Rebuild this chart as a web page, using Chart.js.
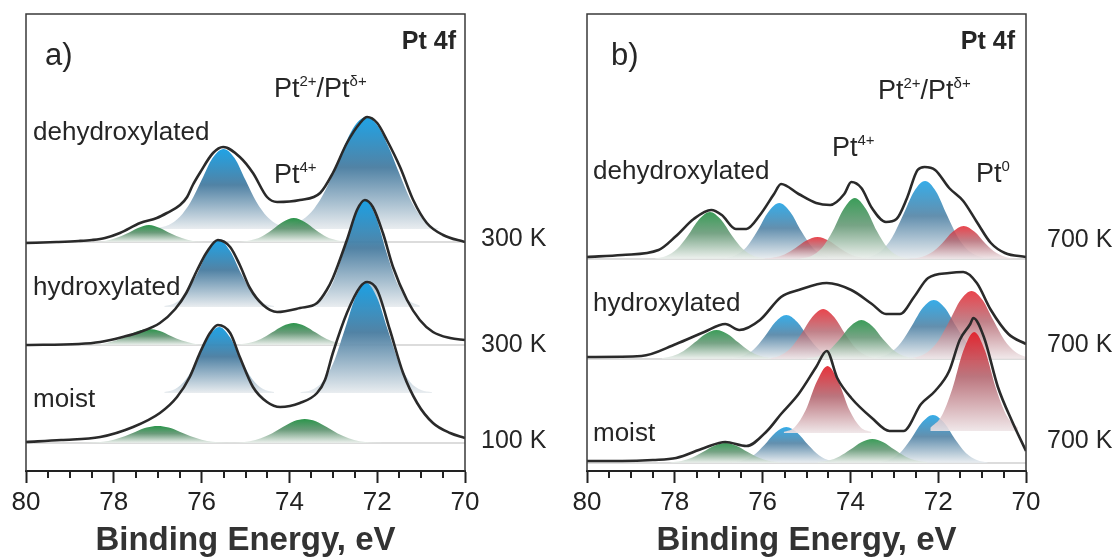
<!DOCTYPE html>
<html><head><meta charset="utf-8">
<script src="https://cdn.jsdelivr.net/npm/chart.js@4.4.1/dist/chart.umd.min.js"></script>
<style>
html,body{margin:0;padding:0;background:#fff;width:1120px;height:557px;overflow:hidden}
.box{position:absolute;top:0;height:557px}
#boxA{left:0;width:560px}
#boxB{left:561px;width:559px}
</style></head><body>
<div class="box" id="boxA"><canvas id="chartA"></canvas></div>
<div class="box" id="boxB"><canvas id="chartB"></canvas></div>
<script>
const FAMILY = 'Arial, "Liberation Sans", Helvetica, sans-serif';
const majorTicks = [80, 78, 76, 74, 72, 70];
const axisTitle = 'Binding Energy, eV';

// ---------- Panel a: envelopes (binding energy eV, intensity a.u.) ----------
const aDehydEnv = [[80.0,228],[79.3,229],[78.8,230],[78.5,231],[78.2,233],[77.86,238],[77.4,248],[77.02,253],[76.79,258],[76.49,266],[76.33,274],[76.2,286],[76.04,298],[75.74,318],[75.51,324],[75.13,314],[74.83,298],[74.51,274],[74.28,269],[73.76,271],[73.3,278],[73.01,298],[72.69,328],[72.39,348],[72.23,354],[72.0,348],[71.78,331],[71.48,304],[71.18,271],[70.87,248],[70.5,236],[70.0,229]];
const aHydroxEnv = [[80.0,126],[78.8,127],[78.31,129],[77.8,134],[77.4,139],[76.95,148],[76.6,162],[76.35,178],[76.1,201],[75.88,219],[75.63,231],[75.35,224],[75.13,206],[74.9,183],[74.6,166],[74.28,159],[73.76,163],[73.37,168],[73.15,181],[73.01,193],[72.69,231],[72.46,261],[72.28,271],[72.1,264],[71.87,238],[71.64,204],[71.32,171],[71.03,151],[70.73,139],[70.34,133],[70.0,131]];
const aMoistEnv = [[80.0,29],[79.2,31],[78.31,34],[77.56,44],[76.95,58],[76.56,74],[76.27,94],[76.04,118],[75.81,138],[75.63,146],[75.35,138],[75.13,114],[74.83,84],[74.51,69],[74.21,64],[73.76,68],[73.37,78],[73.19,91],[73.01,118],[72.69,158],[72.39,184],[72.23,189],[72.0,181],[71.71,141],[71.41,98],[71.09,68],[70.73,48],[70.34,38],[70.0,33]];

// ---------- Panel a: fitted components ----------
const aDehydG1 = [[75.95,229],[76.2,230],[76.45,233],[76.7,237.5],[76.95,243],[77.2,246],[77.45,243],[77.7,237.5],[77.95,233],[78.2,230],[78.45,229]];
const aDehydB1 = [[74.0,243],[74.25,246],[74.5,254],[74.75,269],[75.0,291],[75.25,313],[75.5,322],[75.75,313],[76.0,291],[76.25,269],[76.5,254],[76.75,246],[77.0,243]];
const aDehydG2 = [[72.65,229],[72.9,230.5],[73.15,234],[73.4,241],[73.65,249],[73.9,253],[74.15,249],[74.4,241],[74.65,234],[74.9,230.5],[75.15,229]];
const aDehydB2 = [[70.6,242.5],[70.8,245],[71.0,254],[71.25,272],[71.5,298],[71.75,325],[72.0,346],[72.25,354],[72.5,346],[72.75,325],[73.0,298],[73.25,275],[73.5,259],[73.75,250],[74.0,245.5]];
const aHydroxG1 = [[75.95,126],[76.2,127.6],[76.45,130.4],[76.7,135],[76.95,140],[77.2,142],[77.45,140],[77.7,135],[77.95,130.4],[78.2,127.6],[78.45,126]];
const aHydroxB1 = [[74.35,165],[74.6,168],[74.85,178],[75.1,197.5],[75.35,220],[75.6,231],[75.85,220],[76.1,197.5],[76.35,178],[76.6,168],[76.85,165]];
const aHydroxG2 = [[72.65,126.6],[72.9,128.2],[73.15,132],[73.4,138.4],[73.65,145],[73.9,148],[74.15,145],[74.4,138.4],[74.65,132],[74.9,128.2],[75.15,126.6]];
const aHydroxB2 = [[71.03,165.4],[71.28,170.7],[71.53,186.5],[71.78,217.5],[72.03,254],[72.28,271],[72.53,254],[72.78,217.5],[73.03,186.5],[73.28,170.7],[73.53,165.4]];
const aMoistG1 = [[75.25,28.1],[75.5,28.4],[75.75,29.3],[76.0,31.3],[76.25,34.7],[76.5,39.3],[76.75,43.4],[77.0,45],[77.25,43.4],[77.5,39.3],[77.75,34.7],[78.0,31.3],[78.25,29.3],[78.5,28.4],[78.75,28.1]];
const aMoistB1 = [[74.35,79],[74.6,82],[74.85,92],[75.1,111],[75.35,133.5],[75.6,144],[75.85,133.5],[76.1,111],[76.35,92],[76.6,82],[76.85,79]];
const aMoistG2 = [[71.9,28.2],[72.15,28.6],[72.4,29.8],[72.65,32.7],[72.9,37.5],[73.15,43.9],[73.4,49.7],[73.65,52],[73.9,49.7],[74.15,43.9],[74.4,37.5],[74.65,32.7],[74.9,29.8],[75.15,28.6],[75.4,28.2]];
const aMoistB2 = [[70.75,78.7],[71.0,81],[71.25,89],[71.5,108],[71.75,140],[72.0,173],[72.25,188],[72.5,173],[72.75,140],[73.0,108],[73.25,89],[73.5,81],[73.75,78.7]];
// background levels: [dehydroxylated, hydroxylated, moist]
const aGreenBase = [229, 126, 28];
const aBlueBase = [242, 164, 78];

// ---------- Panel b: envelopes ----------
const bDehydEnv = [[80.0,214],[79.2,216],[78.37,221],[77.97,235],[77.57,252],[77.17,261],[76.93,256],[76.61,242],[76.37,242],[76.06,256],[75.74,277],[75.58,287],[75.18,277],[74.78,268],[74.46,266],[74.14,277],[73.98,289],[73.75,283],[73.51,263],[73.19,249],[72.95,252],[72.71,273],[72.47,301],[72.31,304],[72.07,301],[71.75,283],[71.43,270],[71.12,249],[70.8,228],[70.48,218],[70.0,214]];
const bHydroxEnv = [[80.0,114],[78.76,115],[77.97,127],[77.33,139],[76.85,147],[76.53,141],[76.06,151],[75.58,174],[75.18,181],[74.54,188],[73.98,181],[73.51,167],[73.19,157],[72.87,157],[72.55,174],[72.23,193],[71.75,198],[71.43,199],[71.12,188],[70.8,161],[70.4,137],[70.0,127]];
const bMoistEnv = [[80.0,10],[79.2,10],[78.5,11],[77.97,13],[77.33,23],[76.85,29],[76.37,25],[75.9,40],[75.58,57],[75.18,77],[74.78,104],[74.54,120],[74.3,93],[73.98,73],[73.51,53],[73.11,40],[72.79,40],[72.39,67],[72.07,80],[71.75,100],[71.51,131],[71.27,147],[71.2,153],[70.96,134],[70.64,84],[70.32,50],[70.0,20]];

// ---------- Panel b: fitted components ----------
const bDehydG1 = [[75.95,212.6],[76.2,215],[76.45,222],[76.7,235.5],[76.95,251.5],[77.2,259],[77.45,251.5],[77.7,235.5],[77.95,222],[78.2,215],[78.45,212.6]];
const bDehydB1 = [[74.37,212.7],[74.62,215.5],[74.87,223.8],[75.12,240],[75.37,259],[75.62,268],[75.87,259],[76.12,240],[76.37,223.8],[76.62,215.5],[76.87,212.7]];
const bDehydR1 = [[73.5,212.3],[73.75,213.4],[74.0,216.6],[74.25,223],[74.5,230.5],[74.75,234],[75.0,230.5],[75.25,223],[75.5,216.6],[75.75,213.4],[76.0,212.3]];
const bDehydG2 = [[72.65,212.3],[72.9,214.8],[73.15,222.9],[73.4,240.3],[73.65,262.3],[73.9,273],[74.15,262.3],[74.4,240.3],[74.65,222.9],[74.9,214.8],[75.15,212.3]];
const bDehydB2 = [[70.8,212.5],[71.05,214.2],[71.3,219.9],[71.55,233.5],[71.8,256],[72.05,279.6],[72.3,290],[72.55,279.6],[72.8,256],[73.05,233.5],[73.3,219.9],[73.55,214.2],[73.8,212.5]];
const bDehydR2 = [[70.17,212.1],[70.42,213.5],[70.67,217.9],[70.92,227.3],[71.17,239.2],[71.42,245],[71.67,239.2],[71.92,227.3],[72.17,217.9],[72.42,213.5],[72.67,212.1]];
const bHydroxG1 = [[75.8,112.8],[76.05,114.9],[76.3,120],[76.55,128.4],[76.8,137.1],[77.05,141],[77.3,137.1],[77.55,128.4],[77.8,120],[78.05,114.9],[78.3,112.8]];
const bHydroxB1 = [[74.21,112.6],[74.46,114.8],[74.71,121.2],[74.96,134],[75.21,149],[75.46,156],[75.71,149],[75.96,134],[76.21,121.2],[76.46,114.8],[76.71,112.6]];
const bHydroxR1 = [[73.37,112.7],[73.62,115.1],[73.87,122.5],[74.12,137],[74.37,154],[74.62,162],[74.87,154],[75.12,137],[75.37,122.5],[75.62,115.1],[75.87,112.7]];
const bHydroxG2 = [[72.5,112.5],[72.75,114.4],[73.0,120.2],[73.25,131.5],[73.5,144.8],[73.75,151],[74.0,144.8],[74.25,131.5],[74.5,120.2],[74.75,114.4],[75.0,112.5]];
const bHydroxB2 = [[70.6,112.4],[70.85,113.7],[71.1,118],[71.35,128.3],[71.6,145.3],[71.85,163.2],[72.1,171],[72.35,163.2],[72.6,145.3],[72.85,128.3],[73.1,118],[73.35,113.7],[73.6,112.4]];
const bHydroxR2 = [[70.0,113.9],[70.24,118.9],[70.49,130.8],[70.74,150.4],[70.99,171],[71.24,180],[71.49,171],[71.74,150.4],[71.99,130.8],[72.24,118.9],[72.49,113.9],[72.74,112.4]];
const bMoistG1 = [[75.6,8.6],[75.85,10],[76.1,13.5],[76.35,19.3],[76.6,25.3],[76.85,28],[77.1,25.3],[77.35,19.3],[77.6,13.5],[77.85,10],[78.1,8.6]];
const bMoistB1 = [[74.21,8.5],[74.46,10.3],[74.71,15.6],[74.96,26],[75.21,38.3],[75.46,44],[75.71,38.3],[75.96,26],[76.21,15.6],[76.46,10.3],[76.71,8.5]];
const bMoistR1 = [[73.52,38.9],[73.77,43.8],[74.02,60.7],[74.27,89],[74.52,105],[74.77,89],[75.02,60.7],[75.27,43.8],[75.52,38.9]];
const bMoistG2 = [[72.25,8.7],[72.5,10.4],[72.75,14.6],[73.0,21.5],[73.25,28.8],[73.5,32],[73.75,28.8],[74.0,21.5],[74.25,14.6],[74.5,10.4],[74.75,8.7]];
const bMoistB2 = [[70.87,8.6],[71.12,11],[71.37,18.1],[71.62,32],[71.87,48.4],[72.12,56],[72.37,48.4],[72.62,32],[72.87,18.1],[73.12,11],[73.37,8.6]];
const bMoistR2 = [[70.18,43.3],[70.43,54.5],[70.68,82],[70.93,119.9],[71.18,139],[71.43,119.9],[71.68,82],[71.93,54.5],[72.18,43.3]];
// background levels: [dehydroxylated, hydroxylated, moist]
const bBase = [212, 112, 8];
const bMoistRedBase = [38, 40];

// ---------- helpers ----------
const COLORS = {
  blue:  ['20,158,228', '72,124,160', '232,236,239'],
  green: ['25,140,60', '95,148,112', '236,240,237'],
  red:   ['228,22,32', '178,98,108', '238,228,230']
};
const isMajor = v => majorTicks.some(m => Math.abs(m - v) < 1e-6);
const toXY = arr => arr.slice().sort((p, q) => q[0] - p[0]).map(p => ({x: p[0], y: p[1]}));

function compDataset(arr, base, color, alpha, layer) {
  const peak = Math.max(...arr.map(p => p[1]));
  const c = COLORS[color];
  return {
    data: toXY(arr), borderWidth: 0, borderColor: 'rgba(0,0,0,0)', pointRadius: 0,
    cubicInterpolationMode: 'monotone', fill: {value: base}, order: layer,
    backgroundColor: (ctx) => {
      const chart = ctx.chart;
      if (!chart.chartArea) return `rgba(${c[1]},${alpha})`;
      const ys = chart.scales.y;
      const g = chart.ctx.createLinearGradient(0, ys.getPixelForValue(peak), 0, ys.getPixelForValue(base));
      g.addColorStop(0, `rgba(${c[0]},${alpha})`);
      g.addColorStop(0.45, `rgba(${c[1]},${alpha})`);
      g.addColorStop(1, `rgba(${c[2]},${alpha})`);
      return g;
    }
  };
}
function envDataset(arr) {
  return {data: toXY(arr), borderColor: '#2a2a2a', borderWidth: 2.6, pointRadius: 0,
          cubicInterpolationMode: 'monotone', fill: false, order: 0};
}
function baseDataset(level) {
  return {data: [{x: 80, y: level}, {x: 70, y: level}], borderColor: '#d0d0d0', borderWidth: 1.5,
          pointRadius: 0, fill: false, order: 9};
}

const framePlugin = {
  id: 'frame',
  afterDraw(chart) {
    const {ctx, chartArea: a} = chart;
    ctx.save(); ctx.strokeStyle = '#3a3a3a'; ctx.lineWidth = 1.5;
    ctx.beginPath(); ctx.moveTo(a.left, a.bottom); ctx.lineTo(a.left, a.top);
    ctx.lineTo(a.right, a.top); ctx.lineTo(a.right, a.bottom); ctx.stroke(); ctx.restore();
  }
};
const minorTickPlugin = {
  id: 'minorTicks',
  afterDraw(chart) {
    const {ctx, chartArea: a} = chart; const x = chart.scales.x;
    ctx.save(); ctx.strokeStyle = '#222'; ctx.lineWidth = 2;
    x.ticks.forEach(t => {
      if (isMajor(t.value)) return;
      const px = Math.round(x.getPixelForValue(t.value));
      ctx.beginPath(); ctx.moveTo(px, a.bottom); ctx.lineTo(px, a.bottom + 7); ctx.stroke();
    });
    ctx.restore();
  }
};
const textPlugin = {
  id: 'panelText',
  afterDraw(chart, args, opts) {
    const ctx = chart.ctx;
    ctx.save(); ctx.fillStyle = '#262626'; ctx.textBaseline = 'alphabetic';
    (opts.items || []).forEach(it => {
      const w = it.weight || 'normal';
      const fontOf = p => `${w} ${p.sup ? it.supSize : it.size}px ${FAMILY}`;
      let total = 0;
      it.parts.forEach(p => { ctx.font = fontOf(p); total += ctx.measureText(p.t).width; });
      let x = it.align === 'right' ? it.x - total : it.x;
      it.parts.forEach(p => {
        ctx.font = fontOf(p);
        ctx.fillText(p.t, x, p.sup ? it.y - it.supRise : it.y);
        x += ctx.measureText(p.t).width;
      });
    });
    ctx.restore();
  }
};

function buildChart(id, datasets, padRight, items) {
  return new Chart(document.getElementById(id), {
    type: 'line',
    data: {datasets},
    options: {
      responsive: true, maintainAspectRatio: false, animation: false, devicePixelRatio: 1, events: [],
      layout: {padding: {left: 26, right: padRight, top: 14, bottom: 0}},
      plugins: {legend: {display: false}, tooltip: {enabled: false}, panelText: {items}},
      scales: {
        x: {
          type: 'linear', min: 70, max: 80, reverse: true, position: 'bottom',
          afterFit: s => { s.height = 86; },
          border: {display: true, color: '#222', width: 2},
          grid: {display: true, drawOnChartArea: false, drawTicks: true, tickLength: 12, tickWidth: 2,
                 tickColor: c => (c.tick && isMajor(c.tick.value)) ? '#222' : 'rgba(0,0,0,0)'},
          ticks: {stepSize: 0.5, autoSkip: false, maxRotation: 0, minRotation: 0, padding: 4, color: '#222',
                  font: {size: 26, family: FAMILY}, callback: v => isMajor(v) ? String(v) : ''},
          title: {display: true, text: axisTitle, color: '#333',
                  font: {size: 33, weight: 'bold', family: FAMILY, lineHeight: 1.0}, padding: {top: 0, bottom: 0}}
        },
        y: {display: false, min: 0, max: 457}
      }
    },
    plugins: [framePlugin, minorTickPlugin, textPlugin]
  });
}

const T = (x, y, size, text, extra) => Object.assign({x, y, size, parts: [{t: text}]}, extra || {});
const PT = (x, y, parts) => ({x, y, size: 27, supSize: 15, supRise: 11, parts});

// ---------- panel a (lower spectra drawn over upper ones; green over blue) ----------
const aSets = [
  envDataset(aDehydEnv), envDataset(aHydroxEnv), envDataset(aMoistEnv),
  compDataset(aMoistG1, aGreenBase[2], 'green', 0.92, 1), compDataset(aMoistG2, aGreenBase[2], 'green', 0.92, 1),
  compDataset(aMoistB1, aBlueBase[2], 'blue', 0.95, 1), compDataset(aMoistB2, aBlueBase[2], 'blue', 0.95, 1),
  compDataset(aHydroxG1, aGreenBase[1], 'green', 0.92, 2), compDataset(aHydroxG2, aGreenBase[1], 'green', 0.92, 2),
  compDataset(aHydroxB1, aBlueBase[1], 'blue', 0.95, 2), compDataset(aHydroxB2, aBlueBase[1], 'blue', 0.95, 2),
  compDataset(aDehydG1, aGreenBase[0], 'green', 0.92, 3), compDataset(aDehydG2, aGreenBase[0], 'green', 0.92, 3),
  compDataset(aDehydB1, aBlueBase[0], 'blue', 0.95, 3), compDataset(aDehydB2, aBlueBase[0], 'blue', 0.95, 3),
  baseDataset(aGreenBase[0]), baseDataset(aGreenBase[1]), baseDataset(aGreenBase[2])
];
buildChart('chartA', aSets, 95, [
  T(45, 65, 31, 'a)'),
  T(456, 49, 25, 'Pt 4f', {weight: 'bold', align: 'right'}),
  PT(274, 97, [{t: 'Pt'}, {t: '2+', sup: 1}, {t: '/Pt'}, {t: 'δ+', sup: 1}]),
  T(33, 140, 26, 'dehydroxylated'),
  PT(274, 183, [{t: 'Pt'}, {t: '4+', sup: 1}]),
  T(33, 295, 26, 'hydroxylated'),
  T(33, 407, 26, 'moist'),
  T(481, 246, 25, '300 K'),
  T(481, 352, 25, '300 K'),
  T(481, 448, 25, '100 K')
]);

// ---------- panel b ----------
const bSets = [
  envDataset(bDehydEnv), envDataset(bHydroxEnv), envDataset(bMoistEnv),
  compDataset(bMoistG1, bBase[2], 'green', 0.85, 1), compDataset(bMoistG2, bBase[2], 'green', 0.85, 1),
  compDataset(bMoistR1, bMoistRedBase[0], 'red', 0.88, 1), compDataset(bMoistR2, bMoistRedBase[1], 'red', 0.88, 1),
  compDataset(bMoistB1, bBase[2], 'blue', 0.85, 1), compDataset(bMoistB2, bBase[2], 'blue', 0.85, 1),
  compDataset(bHydroxG1, bBase[1], 'green', 0.85, 2), compDataset(bHydroxG2, bBase[1], 'green', 0.85, 2),
  compDataset(bHydroxR1, bBase[1], 'red', 0.8, 2), compDataset(bHydroxR2, bBase[1], 'red', 0.8, 2),
  compDataset(bHydroxB1, bBase[1], 'blue', 0.85, 2), compDataset(bHydroxB2, bBase[1], 'blue', 0.85, 2),
  compDataset(bDehydG1, bBase[0], 'green', 0.85, 3), compDataset(bDehydG2, bBase[0], 'green', 0.85, 3),
  compDataset(bDehydR1, bBase[0], 'red', 0.8, 3), compDataset(bDehydR2, bBase[0], 'red', 0.8, 3),
  compDataset(bDehydB1, bBase[0], 'blue', 0.85, 3), compDataset(bDehydB2, bBase[0], 'blue', 0.85, 3),
  baseDataset(bBase[0]), baseDataset(bBase[1]), baseDataset(bBase[2])
];
buildChart('chartB', bSets, 94, [
  T(50, 65, 31, 'b)'),
  T(454, 49, 25, 'Pt 4f', {weight: 'bold', align: 'right'}),
  PT(317, 99, [{t: 'Pt'}, {t: '2+', sup: 1}, {t: '/Pt'}, {t: 'δ+', sup: 1}]),
  PT(271, 156, [{t: 'Pt'}, {t: '4+', sup: 1}]),
  T(32, 179, 26, 'dehydroxylated'),
  PT(415, 182, [{t: 'Pt'}, {t: '0', sup: 1}]),
  T(32, 311, 26, 'hydroxylated'),
  T(32, 441, 26, 'moist'),
  T(486, 247, 25, '700 K'),
  T(486, 352, 25, '700 K'),
  T(486, 448, 25, '700 K')
]);
</script></body></html>
